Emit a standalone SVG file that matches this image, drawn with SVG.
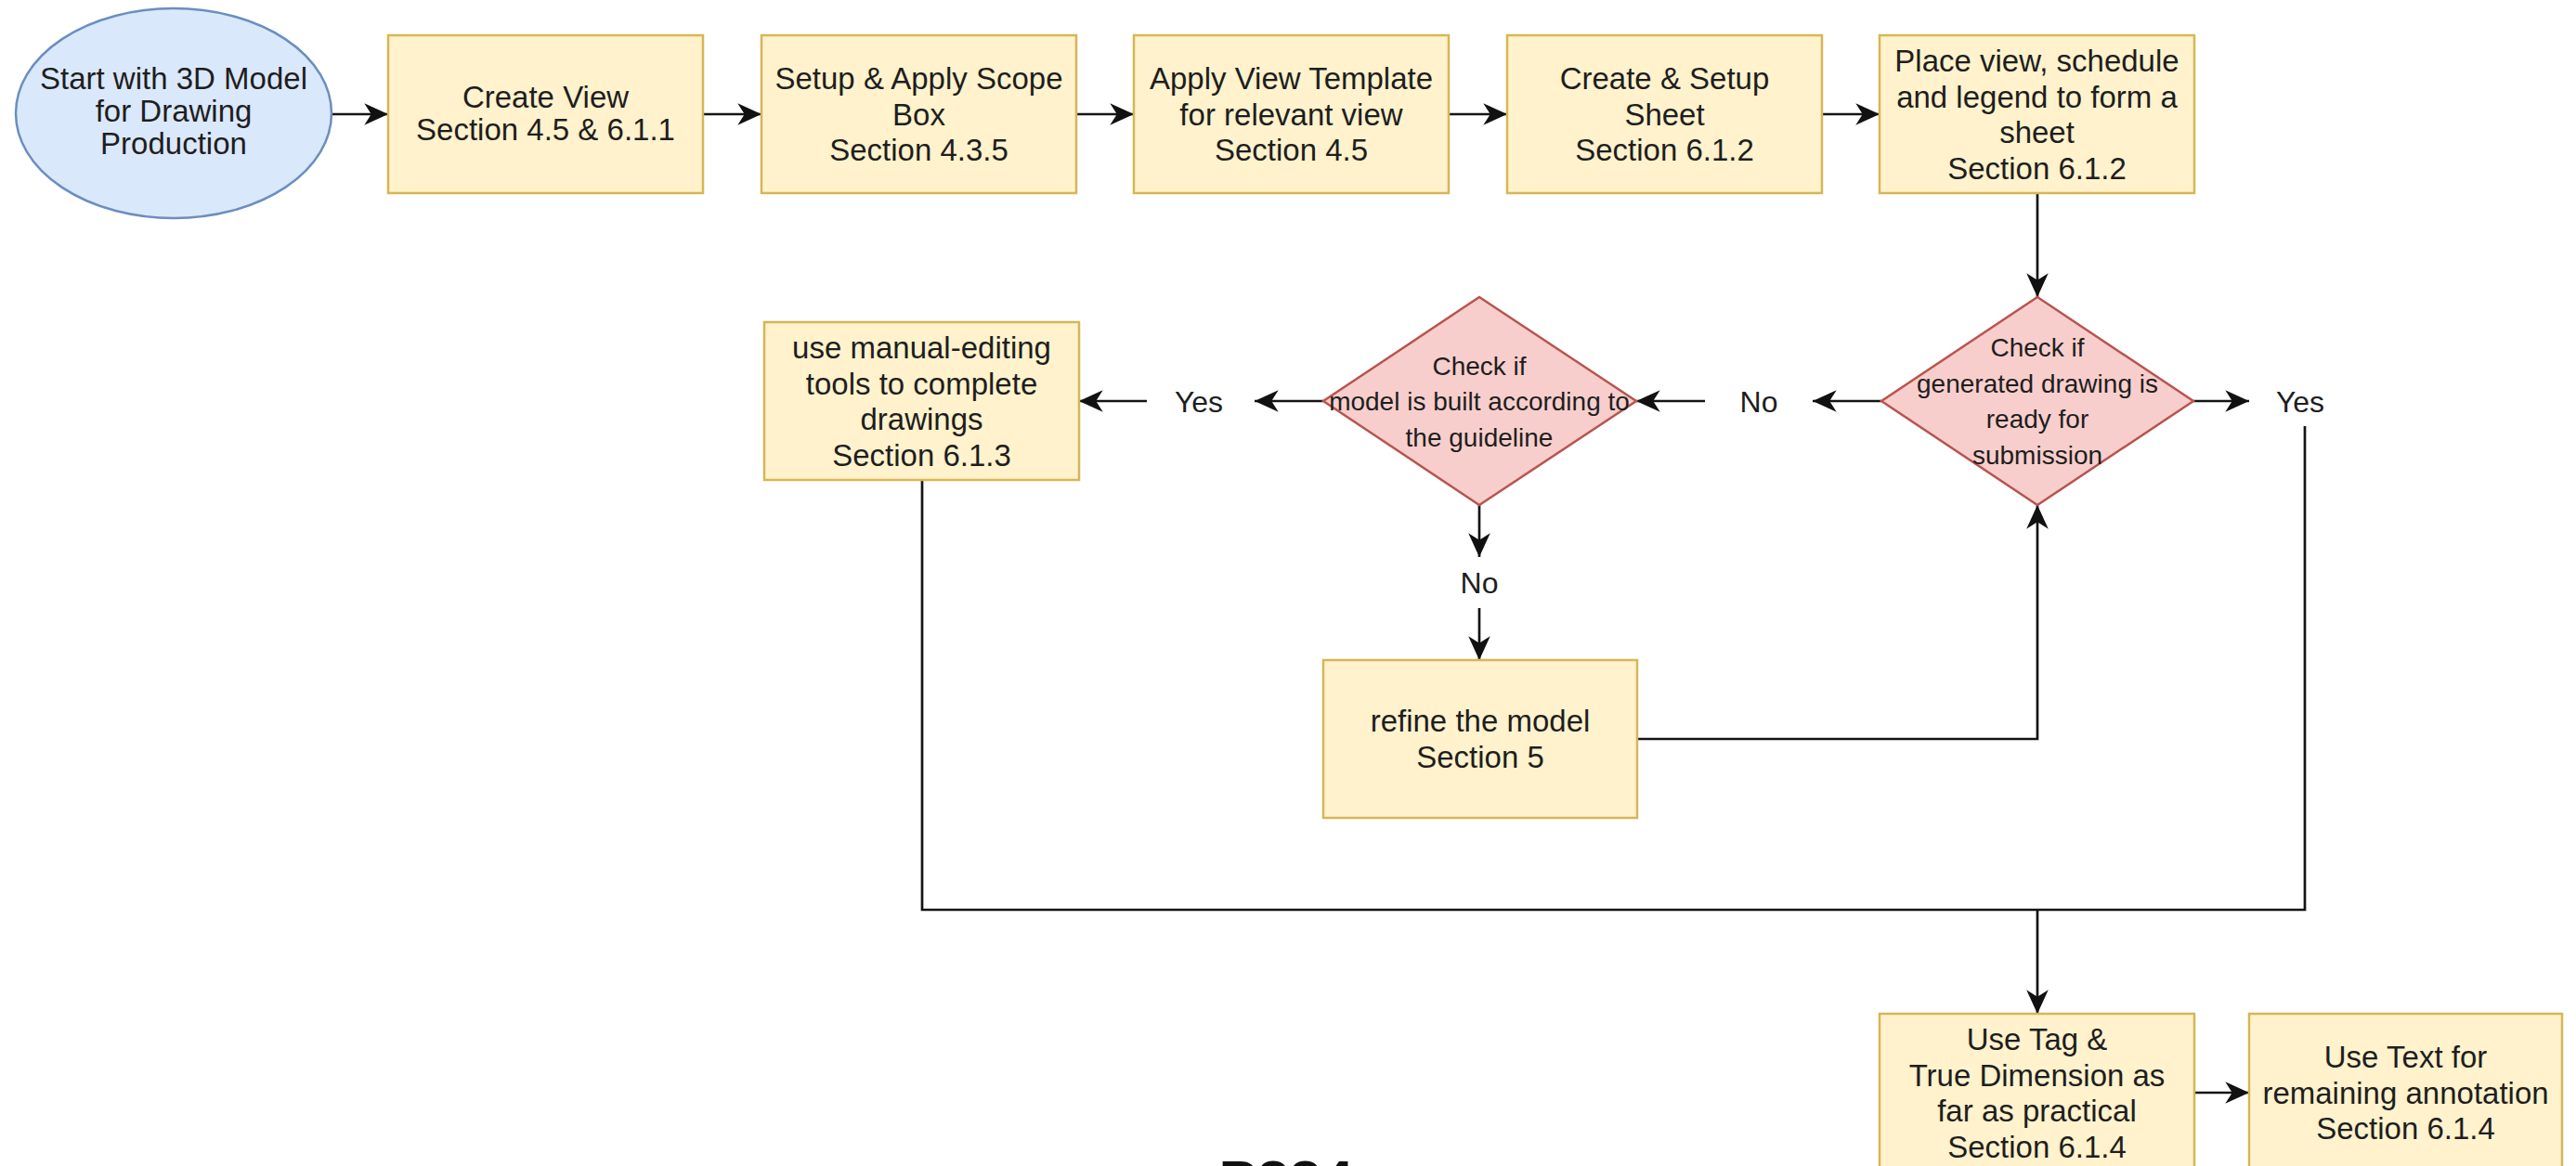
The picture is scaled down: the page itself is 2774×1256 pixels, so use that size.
<svg xmlns="http://www.w3.org/2000/svg" width="2774" height="1256" viewBox="0 0 2774 1256">
  <defs>
    <style>
      .proc { fill: #fff2cc; stroke: #d6b656; stroke-width: 2.5; }
      .dec { fill: #f8cecc; stroke: #b85450; stroke-width: 2.5; }
      .term { fill: #dae8fc; stroke: #6c8ebf; stroke-width: 2.5; }
      text { font-family: "Liberation Sans", Arial, sans-serif; fill: #1e1e1e; text-anchor: middle; }
      .t { font-size: 33px; }
      .td { font-size: 28px; }
      .lbl { font-size: 32px; }
      .foot { font-size: 62px; font-weight: bold; fill: #111; }
      .edge { fill: none; stroke: #141414; stroke-width: 2.7; }
      .edge.a { marker-end: url(#arr); }
    </style>
    <marker id="arr" markerUnits="userSpaceOnUse" markerWidth="30" markerHeight="30" viewBox="-26 -13 28 26" refX="0" refY="0" orient="auto">
      <path d="M0,0 L-24,-11 L-17,0 L-24,11 Z" fill="#111"/>
    </marker>
  </defs>
  <rect width="2774" height="1256" fill="#ffffff"/>

  <!-- connectors -->
  <g id="connectors">
    <path class="edge a" d="M357,123 H418"/>
    <path class="edge a" d="M757,123 H820"/>
    <path class="edge a" d="M1159,123 H1221"/>
    <path class="edge a" d="M1560,123 H1623"/>
    <path class="edge a" d="M1962,123 H2024"/>
    <path class="edge a" d="M2194,208 V320"/>
    <path class="edge a" d="M2026,432 H1952"/>
    <path class="edge a" d="M1836,432 H1762"/>
    <path class="edge a" d="M1425,432 H1351"/>
    <path class="edge a" d="M1235,432 H1162"/>
    <path class="edge a" d="M1593,544 V600"/>
    <path class="edge a" d="M1593,655 V711"/>
    <path class="edge a" d="M2362,432 H2422"/>
    <path class="edge a" d="M1763,796 H2194 V544"/>
    <path class="edge" d="M993,517 V980 H2482 V459"/>
    <path class="edge a" d="M2194,980 V1092"/>
    <path class="edge a" d="M2363,1177 H2422"/>
  </g>

  <!-- start terminal -->
  <g id="start">
    <ellipse class="term" cx="187" cy="122" rx="170" ry="113"/>
    <text class="t" x="187" y="96">Start with 3D Model</text>
    <text class="t" x="187" y="131">for Drawing</text>
    <text class="t" x="187" y="166">Production</text>
  </g>

  <g id="create-view">
    <rect class="proc" x="418" y="38" width="339" height="170"/>
    <text class="t" x="587.5" y="116">Create View</text>
    <text class="t" x="587.5" y="151">Section 4.5 &amp; 6.1.1</text>
  </g>

  <g id="scope-box">
    <rect class="proc" x="820" y="38" width="339" height="170"/>
    <text class="t" x="989.5" y="96">Setup &amp; Apply Scope</text>
    <text class="t" x="989.5" y="134.5">Box</text>
    <text class="t" x="989.5" y="173">Section 4.3.5</text>
  </g>

  <g id="view-template">
    <rect class="proc" x="1221" y="38" width="339" height="170"/>
    <text class="t" x="1390.5" y="96">Apply View Template</text>
    <text class="t" x="1390.5" y="134.5">for relevant view</text>
    <text class="t" x="1390.5" y="173">Section 4.5</text>
  </g>

  <g id="setup-sheet">
    <rect class="proc" x="1623" y="38" width="339" height="170"/>
    <text class="t" x="1792.5" y="96">Create &amp; Setup</text>
    <text class="t" x="1792.5" y="134.5">Sheet</text>
    <text class="t" x="1792.5" y="173">Section 6.1.2</text>
  </g>

  <g id="place-view">
    <rect class="proc" x="2024" y="38" width="339" height="170"/>
    <text class="t" x="2193.5" y="77">Place view, schedule</text>
    <text class="t" x="2193.5" y="115.5">and legend to form a</text>
    <text class="t" x="2193.5" y="154">sheet</text>
    <text class="t" x="2193.5" y="192.5">Section 6.1.2</text>
  </g>

  <g id="check-drawing">
    <polygon class="dec" points="2194,320 2362,432 2194,544 2026,432"/>
    <text class="td" x="2194" y="384">Check if</text>
    <text class="td" x="2194" y="422.5">generated drawing is</text>
    <text class="td" x="2194" y="461">ready for</text>
    <text class="td" x="2194" y="499.5">submission</text>
  </g>

  <g id="check-model">
    <polygon class="dec" points="1593,320 1762,432 1593,544 1425,432"/>
    <text class="td" x="1593" y="403.5">Check if</text>
    <text class="td" x="1593" y="442">model is built according to</text>
    <text class="td" x="1593" y="480.5">the guideline</text>
  </g>

  <g id="manual-editing">
    <rect class="proc" x="823" y="347" width="339" height="170"/>
    <text class="t" x="992.5" y="386">use manual-editing</text>
    <text class="t" x="992.5" y="424.5">tools to complete</text>
    <text class="t" x="992.5" y="463">drawings</text>
    <text class="t" x="992.5" y="501.5">Section 6.1.3</text>
  </g>

  <g id="refine-model">
    <rect class="proc" x="1425" y="711" width="338" height="170"/>
    <text class="t" x="1594" y="788">refine the model</text>
    <text class="t" x="1594" y="826.5">Section 5</text>
  </g>

  <g id="tag-dimension">
    <rect class="proc" x="2024" y="1092" width="339" height="170"/>
    <text class="t" x="2193.5" y="1131">Use Tag &amp;</text>
    <text class="t" x="2193.5" y="1169.5">True Dimension as</text>
    <text class="t" x="2193.5" y="1208">far as practical</text>
    <text class="t" x="2193.5" y="1246.5">Section 6.1.4</text>
  </g>

  <g id="text-annotation">
    <rect class="proc" x="2422" y="1092" width="337" height="170"/>
    <text class="t" x="2590.5" y="1150">Use Text for</text>
    <text class="t" x="2590.5" y="1188.5">remaining annotation</text>
    <text class="t" x="2590.5" y="1227">Section 6.1.4</text>
  </g>

  <!-- branch labels -->
  <g id="label-no-left"><text class="lbl" x="1894" y="444">No</text></g>
  <g id="label-yes-left"><text class="lbl" x="1291" y="444">Yes</text></g>
  <g id="label-no-down"><text class="lbl" x="1593" y="639">No</text></g>
  <g id="label-yes-right"><text class="lbl" x="2477" y="444">Yes</text></g>

  <!-- page caption, running past the lower edge -->
  <text class="foot" x="1385" y="1293">P334</text>
</svg>
